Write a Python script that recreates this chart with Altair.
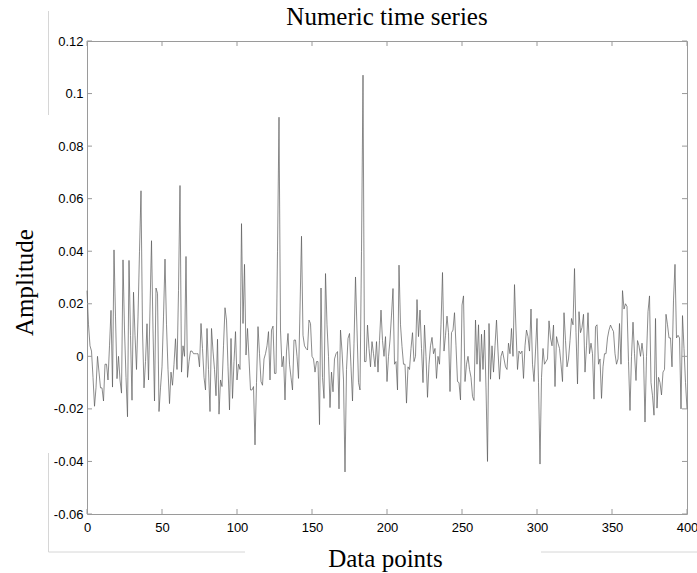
import altair as alt
import pandas as pd

amplitude = [
    0.025, 0.012, 0.004, 0.002, -0.008, -0.019, -0.012, 0.000, -0.006, -0.012,
    -0.012, -0.017, -0.003, -0.003, -0.009, 0.004, 0.0175, -0.0117, 0.0405, 0.015,
    -0.0085, 0.000, -0.009, -0.014, 0.0367, 0.010, -0.008, -0.023, 0.0365, 0.008,
    -0.0167, 0.0244, 0.008, -0.005, 0.015, 0.040, 0.063, 0.010, -0.012, -0.002,
    0.0124, -0.009, 0.018, 0.044, 0.010, -0.017, 0.026, 0.024, -0.021, -0.012,
    -0.004, 0.015, 0.037, 0.012, -0.005, -0.018, -0.006, -0.011, -0.003, 0.0067,
    -0.005, 0.025, 0.065, -0.006, 0.004, 0.000, 0.038, -0.008, -0.002, 0.002,
    0.002, 0.001, 0.001, 0.001, 0.001, -0.004, 0.0125, 0.003, -0.008, -0.0128,
    0.0106, -0.005, -0.021, 0.0106, 0.002, -0.005, -0.015, 0.0065, -0.022, -0.009,
    -0.0115, 0.004, 0.0185, 0.0138, -0.004, -0.0204, 0.0068, -0.016, -0.002, 0.0094,
    -0.009, -0.003, -0.005, 0.0505, 0.0125, 0.035, 0.0005, 0.0106, -0.001, -0.0128,
    -0.0128, -0.0115, -0.0337, -0.010, 0.0113, 0.001, -0.0096, -0.011, -0.001, 0.001,
    0.004, 0.0094, -0.009, 0.010, 0.0115, -0.0065, -0.0065, 0.040, 0.091, 0.010,
    -0.004, 0.000, -0.0166, 0.002, 0.0087, -0.003, -0.008, -0.0128, 0.0062, 0.0062,
    0.000, -0.0084, 0.018, 0.0457, 0.008, 0.004, 0.003, 0.0024, 0.0138, 0.0125,
    0.000, -0.001, -0.006, -0.002, -0.002, -0.026, 0.026, -0.008, -0.016, 0.0315,
    0.012, 0.000, -0.0195, -0.006, -0.0135, -0.001, 0.001, 0.0018, -0.020, 0.010,
    0.002, -0.009, -0.044, -0.005, 0.0068, 0.0087, -0.004, -0.017, 0.005, 0.0302,
    0.010, -0.010, -0.0128, 0.040, 0.107, -0.002, -0.002, 0.0119, 0.003, -0.004,
    0.0056, 0.001, -0.004, 0.0056, -0.006, 0.006, 0.0176, 0.006, 0.000, 0.0075,
    -0.0096, 0.000, 0.0062, 0.0157, 0.0258, -0.003, -0.002, -0.0128, 0.0347, 0.012,
    0.0037, -0.003, -0.003, -0.0178, -0.004, -0.005, 0.003, 0.009, -0.002, 0.000,
    0.0216, 0.0075, 0.0176, 0.003, -0.010, 0.0119, 0.000, -0.0156, -0.003, 0.004,
    0.0072, 0.001, 0.003, -0.0084, 0.000, -0.003, 0.012, 0.0319, 0.002, 0.008,
    0.0153, 0.009, -0.0134, 0.009, 0.010, 0.0166, 0.004, -0.0096, -0.010, -0.0166,
    0.0195, 0.023, -0.0096, -0.003, 0.000, -0.005, -0.008, -0.0153, -0.0168, 0.0138,
    -0.003, 0.012, -0.0096, 0.0084, -0.005, 0.010, -0.012, -0.040, 0.0125, -0.0087,
    0.004, -0.006, 0.004, 0.0138, 0.002, -0.0087, 0.000, 0.002, -0.001, -0.004,
    -0.005, 0.005, 0.001, 0.0106, 0.000, 0.0273, 0.010, -0.005, 0.002, 0.001,
    0.002, -0.0084, 0.004, 0.010, 0.0075, 0.002, 0.018, -0.003, -0.0096, 0.002,
    0.0144, -0.010, -0.041, -0.008, 0.003, -0.003, -0.002, -0.001, 0.0135, 0.007,
    0.004, 0.0119, -0.0115, 0.0075, 0.005, 0.003, -0.003, -0.0096, 0.0166, 0.006,
    -0.004, -0.001, 0.006, 0.0144, 0.012, 0.0334, 0.009, -0.0105, 0.017, 0.009,
    0.011, 0.016, -0.006, 0.004, 0.0166, 0.001, 0.005, 0.001, -0.0163, 0.0113,
    0.012, -0.003, -0.001, -0.016, -0.004, 0.001, 0.001, 0.007, 0.010, 0.0119,
    0.0106, 0.0094, 0.001, -0.003, -0.001, 0.0125, -0.003, 0.025, 0.018, 0.020,
    0.019, -0.002, -0.0206, 0.000, 0.013, 0.001, -0.0092, 0.006, 0.004, 0.000,
    0.005, 0.000, -0.025, 0.000, 0.017, 0.023, -0.010, -0.015, -0.0224, 0.0144,
    -0.0197, -0.008, -0.010, -0.0147, -0.006, -0.005, 0.016, 0.012, 0.007, 0.007,
    -0.004, 0.0214, 0.035, 0.007, 0.008, 0.007, -0.020, 0.0155, 0.003, -0.010,
    -0.020,
]
points = list(range(len(amplitude)))

x_ticks = [0, 50, 100, 150, 200, 250, 300, 350, 400]
y_ticks = [-0.06, -0.04, -0.02, 0, 0.02, 0.04, 0.06, 0.08, 0.1, 0.12]
chart_title = "Numeric time series"
x_title = "Data points"
y_title = "Amplitude"

series = pd.DataFrame({"point": points, "amp": amplitude})
xt = pd.DataFrame({"t": x_ticks})
yt = pd.DataFrame({"t": y_ticks})
one = pd.DataFrame({"k": [0]})

W, H = 600, 473
frame_col = "#9a9a9a"
serif = "Liberation Serif"
sans = "Liberation Sans"

xs = alt.Scale(domain=[0, 400], nice=False, zero=False)
ys = alt.Scale(domain=[-0.06, 0.12], nice=False, zero=False)

x_axis = alt.Axis(
    values=x_ticks, domain=False, ticks=False, grid=False,
    labelFont=sans, labelFontSize=13, labelColor="black", labelPadding=7,
    labelFlush=False, labelOverlap=False,
    titleFont=serif, titleFontSize=25, titleFontWeight="normal", titleColor="black",
    titleBaseline="alphabetic", titleY=52, titleX=W / 2 - 2, titleAlign="center")
y_axis = alt.Axis(
    values=y_ticks, domain=False, ticks=False, grid=False,
    labelExpr="'' + datum.value",
    labelFont=sans, labelFontSize=13, labelColor="black", labelPadding=4,
    labelFlush=False, labelOverlap=False,
    titleFont=serif, titleFontSize=25, titleFontWeight="normal", titleColor="black",
    titleAngle=-90, titleBaseline="alphabetic", titleAlign="center",
    titleX=-55, titleY=241)

line = alt.Chart(series).mark_line(color="#5a5a5a", strokeWidth=0.7).encode(
    x=alt.X("point:Q", scale=xs, title=x_title, axis=x_axis),
    y=alt.Y("amp:Q", scale=ys, title=y_title, axis=y_axis),
)

tick_style = dict(color=frame_col, strokeWidth=1)
bottom_ticks = alt.Chart(xt).mark_rule(**tick_style).encode(
    x=alt.X("t:Q", scale=xs, title=x_title, axis=x_axis),
    y=alt.value(H), y2=alt.value(H - 5))
top_ticks = alt.Chart(xt).mark_rule(**tick_style).encode(
    x=alt.X("t:Q", scale=xs, title=x_title, axis=x_axis),
    y=alt.value(0), y2=alt.value(5))
left_ticks = alt.Chart(yt).mark_rule(**tick_style).encode(
    y=alt.Y("t:Q", scale=ys, title=y_title, axis=y_axis),
    x=alt.value(0), x2=alt.value(5))
right_ticks = alt.Chart(yt).mark_rule(**tick_style).encode(
    y=alt.Y("t:Q", scale=ys, title=y_title, axis=y_axis),
    x=alt.value(W), x2=alt.value(W - 5))

# faint stray guide lines seen around the original figure
stray = "#d6d6d6"
s1 = alt.Chart(one).mark_rule(color=stray, strokeWidth=1).encode(
    x=alt.value(-38.5), y=alt.value(-30), y2=alt.value(74))
s2 = alt.Chart(one).mark_rule(color=stray, strokeWidth=1).encode(
    x=alt.value(-38.5), y=alt.value(412), y2=alt.value(511))
s3 = alt.Chart(one).mark_rule(color=stray, strokeWidth=1).encode(
    y=alt.value(511), x=alt.value(-38.5), x2=alt.value(158))
s4 = alt.Chart(one).mark_rule(color=stray, strokeWidth=1).encode(
    y=alt.value(511), x=alt.value(454), x2=alt.value(615))

chart = alt.layer(
    line, bottom_ticks, top_ticks, left_ticks, right_ticks, s1, s2, s3, s4
).properties(
    width=W, height=H,
    title=alt.TitleParams(chart_title, font=serif, fontSize=25, fontWeight="normal",
                          color="black", anchor="middle", baseline="alphabetic",
                          offset=0, dy=39),
    padding={"left": 87, "top": 41, "right": 10, "bottom": 59},
    autosize="none",
).configure_view(
    stroke=frame_col, strokeWidth=1
)

chart.save("out.html", embed_options={"renderer": "svg", "actions": False})
